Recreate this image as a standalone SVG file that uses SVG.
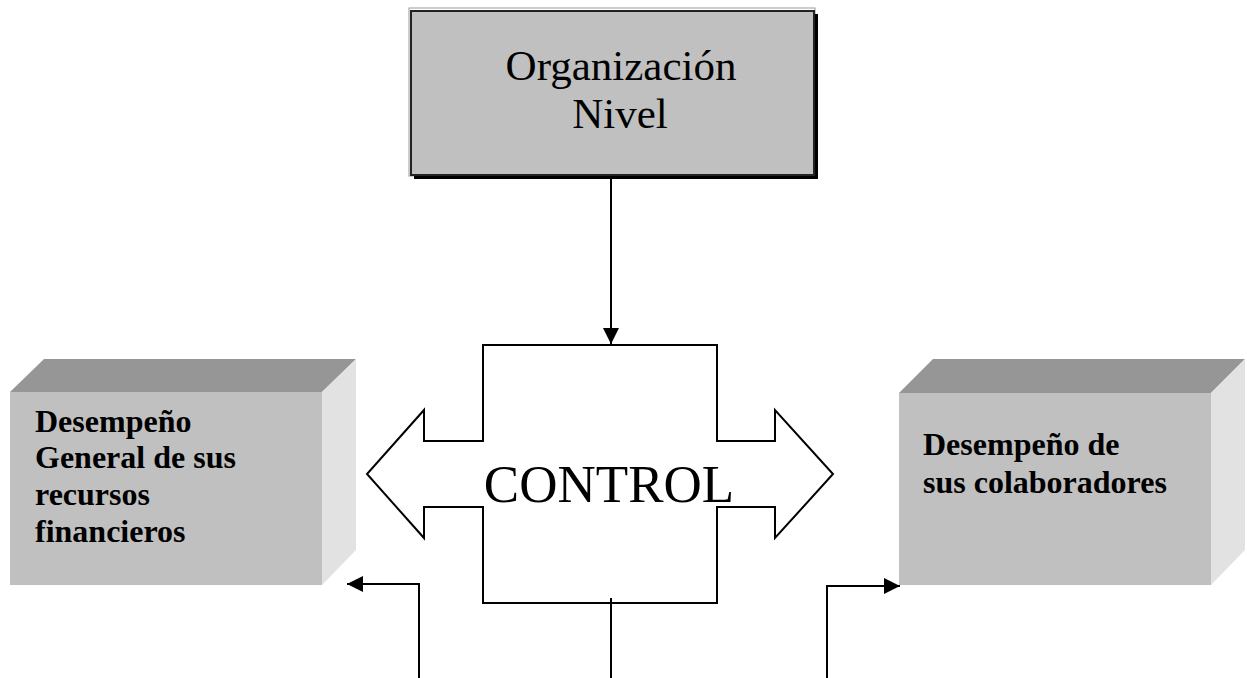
<svg xmlns="http://www.w3.org/2000/svg" width="1247" height="678" viewBox="0 0 1247 678">
  <style>
    .serif { font-family: "Liberation Serif", "Times New Roman", serif; fill: #000; }
    .bold { font-weight: bold; font-size: 32px; }
    .line { fill: none; stroke: #000; stroke-width: 2; }
    .front { fill: #c0c0c0; }
    .top { fill: #969696; }
    .side { fill: #e2e2e2; }
  </style>
  <defs>
    <marker id="arrow" markerUnits="userSpaceOnUse" markerWidth="16" markerHeight="16" refX="16" refY="8" orient="auto">
      <path d="M0,0 L16,8 L0,16 Z" fill="#000"/>
    </marker>
  </defs>
  <rect width="1247" height="678" fill="#fff"/>

  <!-- top box with drop shadow -->
  <g id="organizacion">
    <rect x="409" y="8" width="406" height="168" fill="none" stroke="#9a9a9a" stroke-width="1"/>
    <rect x="414" y="14" width="404" height="165" fill="#000"/>
    <rect x="411" y="11" width="403" height="164" fill="#c0c0c0" stroke="#222" stroke-width="2"/>
    <text class="serif" x="621" y="80" font-size="43" text-anchor="middle">Organización</text>
    <text class="serif" x="620" y="128" font-size="43" text-anchor="middle">Nivel</text>
  </g>

  <!-- left 3D box -->
  <g id="recursos">
    <polygon class="top" points="10,392 44,359 356,359 322,392"/>
    <polygon class="side" points="322,392 356,359 356,550 322,585"/>
    <rect class="front" x="10" y="392" width="312" height="193"/>
    <text class="serif bold" x="35" y="432">Desempeño</text>
    <text class="serif bold" x="35" y="468">General de sus</text>
    <text class="serif bold" x="35" y="505">recursos</text>
    <text class="serif bold" x="35" y="542">financieros</text>
  </g>

  <!-- right 3D box -->
  <g id="colaboradores">
    <polygon class="top" points="899,393 933,359 1245,359 1211,393"/>
    <polygon class="side" points="1211,393 1245,359 1245,550 1211,585"/>
    <rect class="front" x="899" y="393" width="312" height="192"/>
    <text class="serif bold" x="923" y="455">Desempeño de</text>
    <text class="serif bold" x="923" y="493">sus colaboradores</text>
  </g>

  <!-- central double-headed arrow -->
  <g id="control">
    <polygon points="483,345 717,345 717,441 775,441 775,410 833,474 775,538 775,507 717,507 717,603 483,603 483,507 424,507 424,538 367,474 424,410 424,441 483,441" fill="#fff" stroke="#000" stroke-width="2"/>
    <text class="serif" x="609" y="502" font-size="53" text-anchor="middle">CONTROL</text>
  </g>

  <!-- connectors -->
  <g id="connectors">
    <line class="line" x1="611" y1="177" x2="611" y2="344" marker-end="url(#arrow)"/>
    <line class="line" x1="611" y1="598" x2="611" y2="678"/>
    <polyline class="line" points="419,678 419,584 347,584" marker-end="url(#arrow)"/>
    <polyline class="line" points="827,678 827,586 900,586" marker-end="url(#arrow)"/>
  </g>
</svg>
